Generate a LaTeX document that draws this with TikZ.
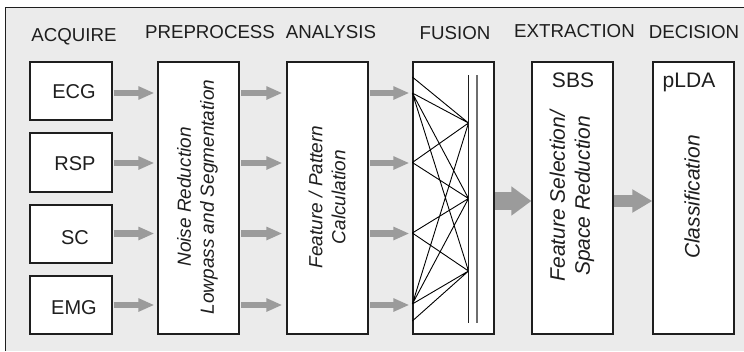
\documentclass[tikz,border=0pt]{standalone}
\usepackage{fontspec}
\setmainfont{Liberation Sans}
\usetikzlibrary{arrows.meta}
\definecolor{panel}{HTML}{EBEBEB}
\definecolor{ink}{HTML}{1E1E1E}
\definecolor{flow}{HTML}{9B9B9B}
\definecolor{rail}{HTML}{6E6E6E}

\begin{document}
\begin{tikzpicture}[x=1pt,y=-1pt,
  box/.style={draw=ink, fill=white, line width=1.3pt, inner sep=0pt},
  srcbox/.style={box, minimum width=82pt, minimum height=58pt},
  stagebox/.style={box, minimum width=81pt, minimum height=272pt},
  head/.style={anchor=base, inner sep=0pt, text=ink, font=\fontsize{18.7}{20}\selectfont},
  lbl/.style={anchor=base, inner sep=0pt, text=ink, font=\fontsize{20}{22}\selectfont},
  vtext/.style={rotate=90, align=center, inner sep=0pt, text=ink, font=\fontsize{19}{23}\selectfont\itshape},
  vtextbig/.style={vtext, font=\fontsize{21}{25}\selectfont\itshape},
  flowarrow/.style={draw=flow, line width=6.5pt, -{Triangle[length=16pt,width=12.5pt]}},
  bigarrow/.style={draw=flow, line width=18pt, -{Triangle[length=20pt,width=28pt]}},
  midarrow/.style={draw=flow, line width=12pt, -{Triangle[length=20pt,width=22pt]}},
  mesh/.style={draw=black, line width=0.9pt},
]
\useasboundingbox (0,0) rectangle (744,351);

% panel with its top and left frame
\fill[panel] (5,7) rectangle (744,351);
\draw[ink, line width=1pt] (5,351) -- (5,7) -- (744,7);

% column headings
\node[head] (h1) at (74,41) {ACQUIRE};
\node[head] (h2) at (210,38) {PREPROCESS};
\node[head] (h3) at (331,38) {ANALYSIS};
\node[head] (h4) at (455,39) {FUSION};
\node[head] (h5) at (574.5,37) {EXTRACTION};
\node[head] (h6) at (694,38) {DECISION};

% signal sources
\node[srcbox] (ecg) at (71,91) {};
\node[srcbox, minimum height=59pt] (rsp) at (71,162.5) {};
\node[srcbox] (sc) at (71,234) {};
\node[srcbox] (emg) at (71,305) {};
\node[lbl] (ecgt) at (74,98) {ECG};
\node[lbl] (rspt) at (75,170) {RSP};
\node[lbl] (sct) at (75,244) {SC};
\node[lbl] (emgt) at (74,314) {EMG};

% processing stages
\node[stagebox] (pre) at (198.5,198) {};
\node[stagebox] (ana) at (327.5,198) {};
\node[stagebox] (fus) at (453.5,198) {};
\node[stagebox] (ext) at (572.5,198) {};
\node[stagebox] (dec) at (693.5,198) {};

\node[vtext] (pret) at (197.5,197) {Noise Reduction\\Lowpass and Segmentation};
\node[vtext] (anat) at (327,197) {Feature / Pattern\\Calculation};
\node[vtextbig] (extt) at (572,196) {Feature Selection/\\Space Reduction};
\node[vtextbig] (dect) at (692,197) {Classification};
\node[lbl, font=\fontsize{21}{23}\selectfont] (sbs) at (573,87) {SBS};
\node[lbl, font=\fontsize{21}{23}\selectfont] (plda) at (689,87.5) {pLDA};

% per-channel flow arrows
\foreach \s/\yy in {ecg/93, rsp/163, sc/233.5, emg/305} {
  \draw[flowarrow] ([xshift=1pt]\s.east |- 0,\yy) -- ([xshift=-3pt]pre.west |- 0,\yy);
  \draw[flowarrow] ([xshift=1.5pt]pre.east |- 0,\yy) -- ([xshift=-4pt]ana.west |- 0,\yy);
  \draw[flowarrow] ([xshift=1.5pt]ana.east |- 0,\yy) -- ([xshift=-3pt]fus.west |- 0,\yy);
}

% fused stream
\draw[bigarrow] ([xshift=0.7pt]fus.east |- 0,201) -- (ext.west |- 0,201);
\draw[midarrow] ([xshift=0.7pt]ext.east |- 0,201) -- (dec.west |- 0,201);

% fusion mesh
\coordinate (l0) at (fus.west |- 0,77);
\coordinate (l1) at (fus.west |- 0,93);
\coordinate (l2) at (fus.west |- 0,162.5);
\coordinate (l3) at (fus.west |- 0,233);
\coordinate (l4) at (fus.west |- 0,304);
\coordinate (l5) at (fus.west |- 0,321);
\coordinate (r1) at (468.5,123);
\coordinate (r2) at (468.5,198.5);
\coordinate (r3) at (468.5,271);
\draw[mesh] (l0) -- (r1) (l1) -- (r1) (l1) -- (r2) (l1) -- (r3)
            (l2) -- (r1) (l2) -- (r2) (l3) -- (r2) (l3) -- (r3)
            (l4) -- (r1) (l4) -- (r2) (l4) -- (r3) (l5) -- (r3);
\coordinate (railAtop) at (468.5,75);
\coordinate (railAbot) at (468.5,323);
\coordinate (railBtop) at (477,75);
\coordinate (railBbot) at (477,323);
\draw[ink, line width=1pt] (railAtop) -- (railAbot);
\draw[rail, line width=1.6pt] (railBtop) -- (railBbot);
\end{tikzpicture}
\end{document}
